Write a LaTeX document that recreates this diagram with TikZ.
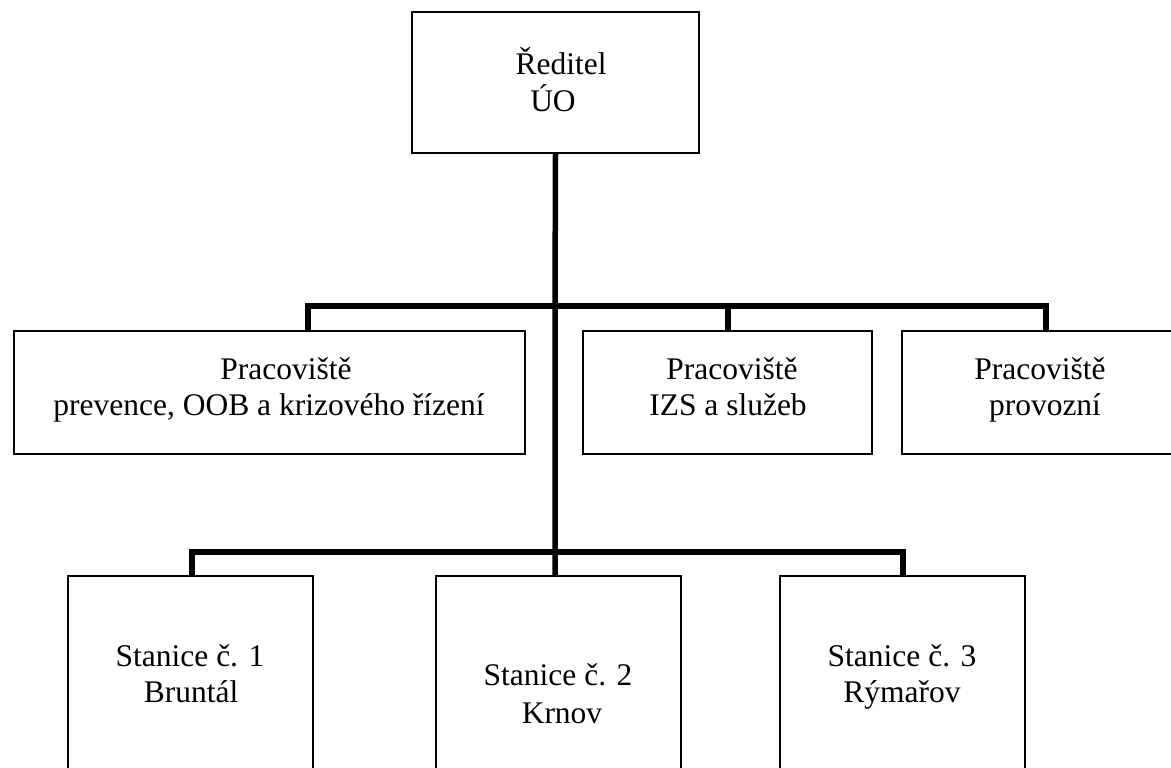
\documentclass[tikz,border=0pt]{standalone}
\usepackage{fontspec}
\setmainfont{Liberation Serif}
\begin{document}
\begin{tikzpicture}[x=1pt,y=-1pt,
  box/.style={draw=black,line width=1.6pt,fill=white,inner sep=0pt},
  conn/.style={draw=black,line width=5.5pt,line join=miter},
  lbl/.style={anchor=base,inner sep=0pt,font=\fontsize{31.5}{36}\selectfont}]
\useasboundingbox (0,0) rectangle (1171,768);
\clip (0,0) rectangle (1171,768);
\fill[white] (0,0) rectangle (1171,768);
% boxes
\node[box,minimum width=287pt,minimum height=141pt] (top) at (555.5,82.5) {};
\node[box,minimum width=511pt,minimum height=123pt] (p1) at (269.5,392.5) {};
\node[box,minimum width=289pt,minimum height=123pt] (p2) at (727.5,392.5) {};
\node[box,minimum width=283pt,minimum height=123pt] (p3) at (1043.5,392.5) {};
\node[box,minimum width=245pt,minimum height=224pt] (s1) at (190.5,688) {};
\node[box,minimum width=245pt,minimum height=224pt] (s2) at (558.5,688) {};
\node[box,minimum width=245pt,minimum height=224pt] (s3) at (902.5,688) {};
% connector points
\coordinate (j1) at (555,306);
\coordinate (j2) at (555,552);
\coordinate (d1) at (308,331);
\coordinate (d2) at (728,331);
\coordinate (d3) at (1046,331);
\coordinate (e1) at (192,576);
\coordinate (e2) at (555,576);
\coordinate (e3) at (903,576);
% connectors
\draw[conn] (top.south) -- (j1) -- (j2) -- (e2);
\draw[conn] (d1) |- (j1) -| (d3);
\draw[conn] (d2) -- (d2 |- j1);
\draw[conn] (e1) |- (j2) -| (e3);
% texts
\node[lbl] (t0a) at (561,75) {Ředitel};
\node[lbl] (t0b) at (553,112) {ÚO};
\node[lbl] (t1a) at (286,379) {Pracoviště};
\node[lbl] (t1b) at (269,415) {prevence, OOB a krizového řízení};
\node[lbl] (t2a) at (732,379) {Pracoviště};
\node[lbl] (t2b) at (728,415) {IZS a služeb};
\node[lbl] (t3a) at (1040,379) {Pracoviště};
\node[lbl] (t3b) at (1045,415) {provozní};
\node[lbl] (u1a) at (190,666) {Stanice č. 1};
\node[lbl] (u1b) at (191,702) {Bruntál};
\node[lbl] (u2a) at (558,685) {Stanice č. 2};
\node[lbl] (u2b) at (562,723) {Krnov};
\node[lbl] (u3a) at (902,666) {Stanice č. 3};
\node[lbl] (u3b) at (902,702) {Rýmařov};
\end{tikzpicture}
\end{document}
